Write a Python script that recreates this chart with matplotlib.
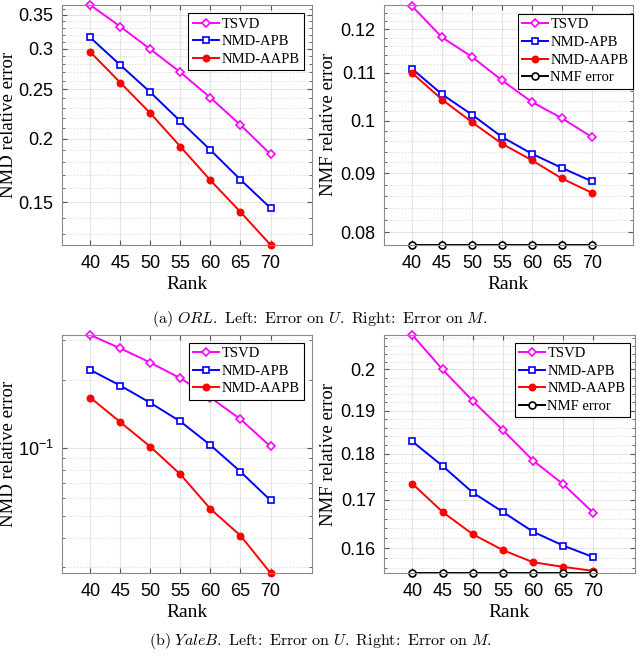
import numpy as np
import matplotlib
matplotlib.use('Agg')
import matplotlib.pyplot as plt
from matplotlib.ticker import FixedLocator, StrMethodFormatter, NullFormatter, LogFormatterSciNotation

plt.rcParams['mathtext.fontset'] = 'cm'

rank = [40, 45, 50, 55, 60, 65, 70]

# (a) ORL
orl_u_tsvd = [0.366, 0.332, 0.2997, 0.270, 0.2407, 0.2128, 0.1864]
orl_u_apb = [0.316, 0.279, 0.2467, 0.2164, 0.190, 0.1662, 0.1462]
orl_u_aapb = [0.296, 0.2577, 0.2244, 0.193, 0.1657, 0.1436, 0.1238]

orl_m_tsvd = [0.1257, 0.1181, 0.1136, 0.1084, 0.1038, 0.1005, 0.0968]
orl_m_apb = [0.1109, 0.1054, 0.1012, 0.0968, 0.0936, 0.0910, 0.0886]
orl_m_aapb = [0.1100, 0.1043, 0.0997, 0.0955, 0.0924, 0.0891, 0.0866]
orl_m_nmf = [0.0780] * 7

# (b) YaleB
yale_u_tsvd = [0.3157, 0.2757, 0.2384, 0.2034, 0.1672, 0.1342, 0.1017]
yale_u_apb = [0.2214, 0.1888, 0.1584, 0.1311, 0.1031, 0.0787, 0.0588]
yale_u_aapb = [0.1672, 0.1302, 0.1014, 0.0766, 0.0539, 0.0411, 0.0281]

yale_m_tsvd = [0.2088, 0.2000, 0.1923, 0.1854, 0.1785, 0.1733, 0.1672]
yale_m_apb = [0.1828, 0.1773, 0.1715, 0.1674, 0.1633, 0.1605, 0.1582]
yale_m_aapb = [0.1734, 0.1674, 0.1628, 0.1596, 0.1572, 0.1563, 0.1555]
yale_m_nmf = [0.1551] * 7

W, H = 640, 656
fig = plt.figure(figsize=(6.4, 6.56), dpi=100)


def px_axes(left, top, right, bottom):
    return fig.add_axes([left / W, 1 - bottom / H, (right - left) / W, (bottom - top) / H])


def style(ax, ylabel, ylim, major, minor, leg_anchor, ylab_x):
    ax.set_yscale('log')
    ax.set_xlim(35.3, 76.9)
    ax.set_ylim(*ylim)
    ax.set_xticks(rank)
    if major is not None:
        ax.yaxis.set_major_locator(FixedLocator(major))
        ax.yaxis.set_major_formatter(StrMethodFormatter('{x:g}'))
    else:
        ax.yaxis.set_major_locator(FixedLocator([0.1]))
        ax.yaxis.set_major_formatter(LogFormatterSciNotation())
    ax.yaxis.set_minor_locator(FixedLocator(minor))
    ax.yaxis.set_minor_formatter(NullFormatter())
    ax.grid(True, which='major', color='#e3e3e3', linewidth=0.8)
    ax.grid(True, which='minor', axis='y', color='#d2d2d2', linestyle=(0, (1, 2)), linewidth=0.7)
    ax.set_axisbelow(True)
    for s in ax.spines.values():
        s.set_color('#8a8a8a')
        s.set_linewidth(0.8)
    ax.tick_params(which='both', direction='in', top=True, right=True, color='#555555',
                   labelsize=13)
    ax.tick_params(axis='x', pad=7)
    ax.tick_params(axis='y', pad=6)
    ax.tick_params(which='major', length=3.5)
    ax.tick_params(which='minor', length=2)
    for lab in ax.get_xticklabels() + ax.get_yticklabels():
        lab.set_fontfamily('Liberation Sans')
    ax.set_xlabel('Rank', fontfamily='Liberation Serif', fontsize=14, labelpad=3)
    ax.set_ylabel(ylabel, fontfamily='Liberation Serif', fontsize=13.5, va='center')
    ax.yaxis.set_label_coords(ylab_x, 0.5)
    leg = ax.legend(loc='upper right', bbox_to_anchor=leg_anchor, fancybox=False,
                    edgecolor='black', framealpha=1, borderpad=0.3, labelspacing=0.3,
                    handlelength=1.8, handletextpad=0.15, borderaxespad=0,
                    prop={'family': 'Liberation Serif', 'size': 10.5})
    leg.get_frame().set_linewidth(0.8)


def draw(ax, tsvd, apb, aapb, nmf=None):
    ax.plot(rank, tsvd, color='magenta', marker='D', ms=4.5, mfc='white', mew=1.2, lw=1.4, label='TSVD', clip_on=False)
    ax.plot(rank, apb, color='blue', marker='s', ms=4.5, mfc='white', mew=1.2, lw=1.4, label='NMD-APB', clip_on=False)
    ax.plot(rank, aapb, color='red', marker='o', ms=4.5, mfc='red', mew=1.2, lw=1.4, label='NMD-AAPB', clip_on=False)
    if nmf is not None:
        ax.plot(rank, nmf, color='black', marker='o', ms=5, mfc='white', mew=1.2, lw=1.4, label='NMF error', clip_on=False)


ax1 = px_axes(62, 5, 312, 245)
draw(ax1, orl_u_tsvd, orl_u_apb, orl_u_aapb)
style(ax1, 'NMD relative error', (0.1237, 0.366), [0.15, 0.2, 0.25, 0.3, 0.35],
      np.arange(0.12, 0.37, 0.01), (0.967, 0.966), -0.212)

ax2 = px_axes(384, 5, 633, 245)
draw(ax2, orl_m_tsvd, orl_m_apb, orl_m_aapb, orl_m_nmf)
style(ax2, 'NMF relative error', (0.0780, 0.1260), [0.08, 0.09, 0.10, 0.11, 0.12],
      np.arange(0.078, 0.1265, 0.002), (1.0, 0.963), -0.222)

ax3 = px_axes(62, 335, 312, 573)
draw(ax3, yale_u_tsvd, yale_u_apb, yale_u_aapb)
style(ax3, 'NMD relative error', (0.0281, 0.3157), None,
      [0.03, 0.04, 0.05, 0.06, 0.07, 0.08, 0.09, 0.2, 0.3], (0.968, 0.968), -0.212)

ax4 = px_axes(384, 335, 635, 573)
draw(ax4, yale_m_tsvd, yale_m_apb, yale_m_aapb, yale_m_nmf)
style(ax4, 'NMF relative error', (0.1551, 0.2088), [0.16, 0.17, 0.18, 0.19, 0.2],
      np.arange(0.156, 0.2095, 0.002), (0.98, 0.968), -0.222)

fig.text(0.5, 1 - 319 / H,
         r'$\mathrm{(a)}\ \mathit{ORL}\mathrm{.\ Left\!:\ Error\ on\ }U\mathrm{.\ Right\!:\ Error\ on\ }M\mathrm{.}$',
         ha='center', va='center', fontsize=11.5)
fig.text(0.5, 1 - 641 / H,
         r'$\mathrm{(b)}\ \mathit{YaleB}\mathrm{.\ Left\!:\ Error\ on\ }U\mathrm{.\ Right\!:\ Error\ on\ }M\mathrm{.}$',
         ha='center', va='center', fontsize=11.5)

fig.savefig('out.png', dpi=100)
